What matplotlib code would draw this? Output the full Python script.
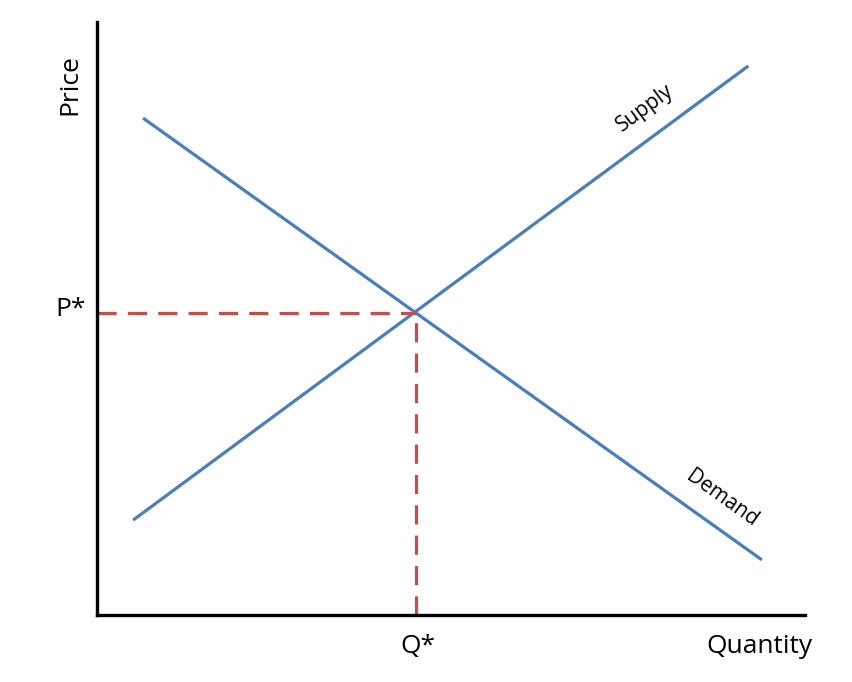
import matplotlib.pyplot as plt

plt.rcParams['font.family'] = ['Open Sans', 'DejaVu Sans']

# curve end points (quantity, price)
supply_q = [5.1, 92.0]
supply_p = [16.0, 92.6]
demand_q = [6.5, 93.9]
demand_p = [83.8, 9.3]
eq_q = 45.0
eq_p = 51.0

blue = '#4a7ebb'
red = '#c0504d'

fig = plt.figure(figsize=(8.52, 6.82), dpi=100)
ax = fig.add_axes([97 / 852, 67 / 682, 708 / 852, 593 / 682])
ax.set_xlim(0, 100)
ax.set_ylim(0, 100)

ax.plot(supply_q, supply_p, color=blue, lw=2.3, solid_capstyle='butt')
ax.plot(demand_q, demand_p, color=blue, lw=2.3, solid_capstyle='butt')
ax.plot([0, eq_q], [eq_p, eq_p], color=red, lw=2.3, dashes=(6, 3.5))
ax.plot([eq_q, eq_q], [0, eq_p], color=red, lw=2.3, dashes=(6, 3.5))

for s in ['top', 'right']:
    ax.spines[s].set_visible(False)
ax.spines['left'].set_linewidth(2.4)
ax.spines['bottom'].set_linewidth(2.4)
ax.set_xticks([])
ax.set_yticks([])

ax.text(-3.8, eq_p + 0.6, 'P*', ha='center', va='center', fontsize=19)
ax.text(eq_q + 0.3, -5.3, 'Q*', ha='center', va='center', fontsize=19)
ax.text(93.5, -5.3, 'Quantity', ha='center', va='center', fontsize=19)
ax.text(-3.8, 89.5, 'Price', ha='center', va='center', rotation=90, fontsize=19)

ax.text(77.4, 85.5, 'Supply', ha='center', va='center', rotation=36.4, fontsize=15)
ax.text(88.3, 19.7, 'Demand', ha='center', va='center', rotation=-35.5, fontsize=15)

fig.savefig('out.png', dpi=100)
